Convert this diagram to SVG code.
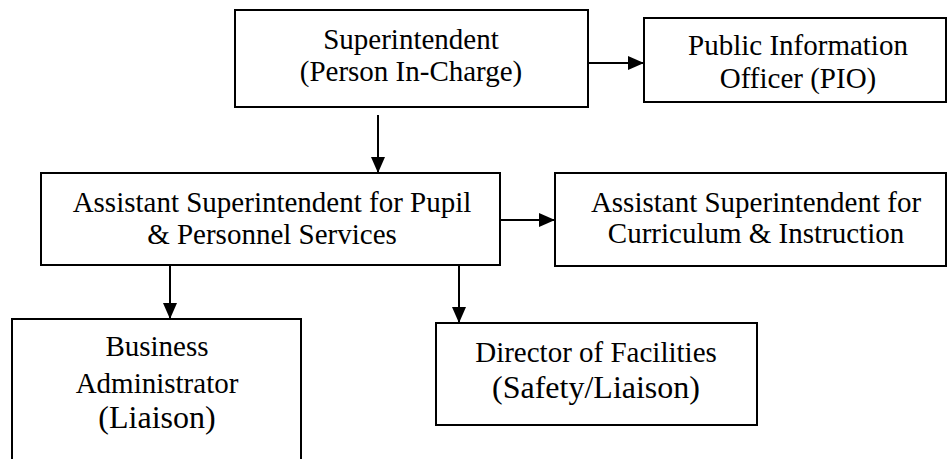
<svg xmlns="http://www.w3.org/2000/svg" width="948" height="459" viewBox="0 0 948 459">
<style>
.box{fill:#fff;stroke:#000;stroke-width:2}
.t{font-family:"Liberation Serif","Times New Roman",serif;font-size:29px;fill:#000;text-anchor:middle}
.b{font-size:32px}
.c{stroke:#000;stroke-width:2;fill:none}
</style>
<defs>
<marker id="ah" markerUnits="userSpaceOnUse" markerWidth="16" markerHeight="14" refX="16" refY="7" orient="auto">
<path d="M0,0 L16,7 L0,14 Z" fill="#000"/>
</marker>
</defs>
<rect width="948" height="459" fill="#fff"/>
<g id="connectors">
<line class="c" x1="588" y1="63" x2="644" y2="63" marker-end="url(#ah)"/>
<line class="c" x1="378" y1="115" x2="378" y2="173" marker-end="url(#ah)"/>
<line class="c" x1="500" y1="220" x2="555" y2="220" stroke-width="3" marker-end="url(#ah)"/>
<line class="c" x1="170" y1="262" x2="170" y2="319" marker-end="url(#ah)"/>
<line class="c" x1="459" y1="265" x2="459" y2="323" marker-end="url(#ah)"/>
</g>
<g id="superintendent">
<rect class="box" x="235" y="10" width="353" height="97"/>
<text class="t" x="411" y="49">Superintendent</text>
<text class="t" x="411" y="81">(Person In-Charge)</text>
</g>
<g id="pio">
<rect class="box" x="644" y="18" width="302" height="84"/>
<text class="t" x="798" y="55">Public Information</text>
<text class="t" x="798" y="88">Officer (PIO)</text>
</g>
<g id="pupil">
<rect class="box" x="41" y="173" width="459" height="92"/>
<text class="t" x="272" y="212">Assistant Superintendent for Pupil</text>
<text class="t" x="272" y="244">&amp; Personnel Services</text>
</g>
<g id="curriculum">
<rect class="box" x="555" y="173" width="391" height="93"/>
<text class="t" x="756" y="212">Assistant Superintendent for</text>
<text class="t" x="756" y="243">Curriculum &amp; Instruction</text>
</g>
<g id="business">
<rect class="box" x="12" y="319" width="289" height="160"/>
<text class="t" x="157" y="356">Business</text>
<text class="t" x="157" y="393">Administrator</text>
<text class="t b" x="157" y="428">(Liaison)</text>
</g>
<g id="director">
<rect class="box" x="436" y="323" width="321" height="102"/>
<text class="t" x="596" y="362">Director of Facilities</text>
<text class="t b" x="596" y="398">(Safety/Liaison)</text>
</g>
</svg>
